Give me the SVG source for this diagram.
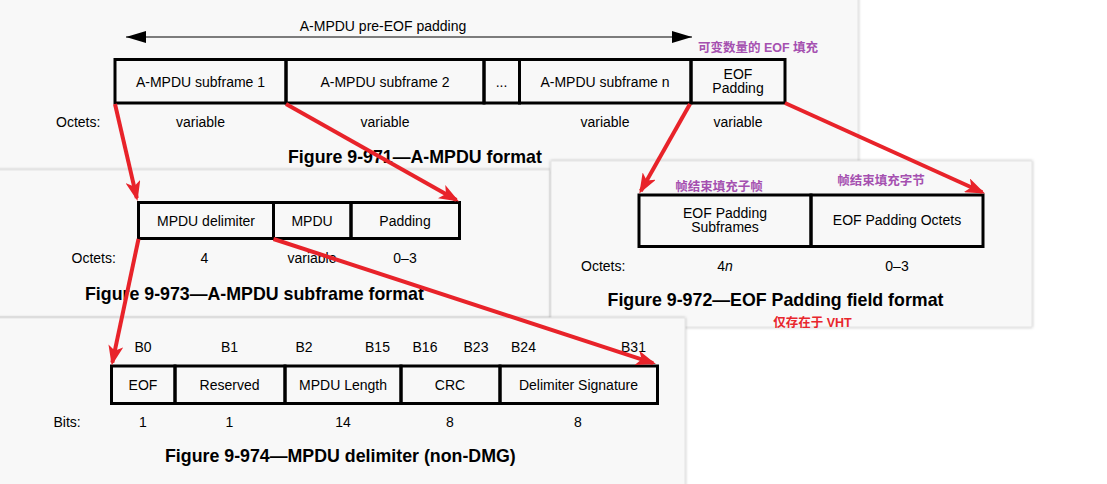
<svg xmlns="http://www.w3.org/2000/svg" width="1107" height="484" viewBox="0 0 1107 484">
<defs>
<style>
.panel{fill:#f8f8f8;stroke:#e4e4e4;stroke-width:1;filter:url(#sh)}
.cell{fill:none;stroke:#000;stroke-width:3}
.t{font-family:"Liberation Sans",Arial,sans-serif;font-size:14px;fill:#000;text-anchor:middle}
.l{text-anchor:start}
.cap{font-weight:bold;font-size:17.8px}
.cn{font-family:"Liberation Sans","Noto Sans CJK SC",sans-serif;font-weight:bold;font-size:12.5px;fill:#a550b0;text-anchor:middle}
.cr{fill:#e8262c}
.red{stroke:#e8232a;stroke-width:4;fill:none;marker-end:url(#rh)}
.blk{stroke:#000;stroke-width:1.2;fill:none;marker-start:url(#bh);marker-end:url(#bh)}
</style>
<filter id="sh" x="-5%" y="-5%" width="110%" height="110%">
<feDropShadow dx="0" dy="0" stdDeviation="1.5" flood-color="#000" flood-opacity="0.28"/>
</filter>
<marker id="rh" markerUnits="userSpaceOnUse" markerWidth="20" markerHeight="15" refX="17" refY="7.5" orient="auto">
<path d="M0,0 L20,7.5 L0,15 L5,7.5 Z" fill="#e8232a"/>
</marker>
<marker id="bh" markerUnits="userSpaceOnUse" markerWidth="20" markerHeight="12" refX="20" refY="6" orient="auto-start-reverse">
<path d="M0,0 L20,6 L0,12 Z" fill="#000"/>
</marker>
</defs>
<rect x="0" y="0" width="1107" height="484" fill="#fff"/>

<!-- panels -->
<g id="panels">
<rect class="panel" x="-10" y="-10" width="868" height="182"/>
<rect class="panel" x="-10" y="170" width="560" height="147"/>
<rect class="panel" x="551" y="161" width="481" height="166"/>
<rect class="panel" x="-10" y="318" width="695" height="176"/>
</g>

<!-- Figure 9-971 -->
<g id="fig971">
<line class="blk" x1="126" y1="37" x2="692" y2="37"/>
<text class="t" x="383" y="31">A-MPDU pre-EOF padding</text>
<text class="cn" x="758" y="52">可变数量的 EOF 填充</text>
<g id="sf1"><rect class="cell" x="115" y="59.5" width="171" height="43.5"/><text class="t" x="200.5" y="86.5">A-MPDU subframe 1</text></g>
<g id="sf2"><rect class="cell" x="286" y="59.5" width="198" height="43.5"/><text class="t" x="385" y="86.5">A-MPDU subframe 2</text></g>
<g id="sfdots"><rect class="cell" x="484" y="59.5" width="35.5" height="43.5"/><text class="t" x="501.5" y="86.5">...</text></g>
<g id="sfn"><rect class="cell" x="519.5" y="59.5" width="171.5" height="43.5"/><text class="t" x="605" y="86.5">A-MPDU subframe n</text></g>
<g id="eofpad"><rect class="cell" x="691" y="59.5" width="94" height="43.5"/><text class="t" x="738" y="79">EOF</text><text class="t" x="738" y="93">Padding</text></g>
<text class="t l" x="56" y="127">Octets:</text>
<text class="t" x="200.5" y="127">variable</text>
<text class="t" x="385" y="127">variable</text>
<text class="t" x="605" y="127">variable</text>
<text class="t" x="738" y="127">variable</text>
<text class="t l cap" x="288" y="163">Figure 9-971—A-MPDU format</text>
</g>

<!-- Figure 9-973 -->
<g id="fig973">
<g id="delim"><rect class="cell" x="138.5" y="202.5" width="135" height="36"/><text class="t" x="206" y="226">MPDU delimiter</text></g>
<g id="mpdu"><rect class="cell" x="273.5" y="202.5" width="77.5" height="36"/><text class="t" x="312" y="226">MPDU</text></g>
<g id="pad"><rect class="cell" x="351" y="202.5" width="108.5" height="36"/><text class="t" x="405" y="226">Padding</text></g>
<text class="t l" x="71.5" y="263">Octets:</text>
<text class="t" x="204.5" y="263">4</text>
<text class="t" x="312" y="263">variable</text>
<text class="t" x="405" y="263">0–3</text>
<text class="t l cap" x="85" y="299.5">Figure 9-973—A-MPDU subframe format</text>
</g>

<!-- Figure 9-972 -->
<g id="fig972">
<text class="cn" x="719" y="191">帧结束填充子帧</text>
<text class="cn" x="881" y="185">帧结束填充字节</text>
<g id="eofsub"><rect class="cell" x="639" y="195" width="172" height="51.5"/><text class="t" x="725" y="218">EOF Padding</text><text class="t" x="725" y="232">Subframes</text></g>
<g id="eofoct"><rect class="cell" x="811" y="195" width="172" height="51.5"/><text class="t" x="897" y="225">EOF Padding Octets</text></g>
<text class="t l" x="581" y="270.5">Octets:</text>
<text class="t" x="725" y="270.5">4<tspan font-style="italic">n</tspan></text>
<text class="t" x="897" y="270.5">0–3</text>
<text class="t cap" x="775.5" y="305.5">Figure 9-972—EOF Padding field format</text>
<text class="cn cr" x="812.5" y="327">仅存在于 VHT</text>
</g>

<!-- Figure 9-974 -->
<g id="fig974">
<text class="t" x="143" y="352">B0</text>
<text class="t" x="229.5" y="352">B1</text>
<text class="t" x="304" y="352">B2</text>
<text class="t" x="377.5" y="352">B15</text>
<text class="t" x="425" y="352">B16</text>
<text class="t" x="476" y="352">B23</text>
<text class="t" x="523.5" y="352">B24</text>
<text class="t" x="633.5" y="352">B31</text>
<g id="feof"><rect class="cell" x="111.5" y="366" width="63.5" height="37.5"/><text class="t" x="143" y="390">EOF</text></g>
<g id="fres"><rect class="cell" x="175" y="366" width="110" height="37.5"/><text class="t" x="229.5" y="390">Reserved</text></g>
<g id="flen"><rect class="cell" x="285" y="366" width="116" height="37.5"/><text class="t" x="343" y="390">MPDU Length</text></g>
<g id="fcrc"><rect class="cell" x="401" y="366" width="99" height="37.5"/><text class="t" x="450" y="390">CRC</text></g>
<g id="fsig"><rect class="cell" x="500" y="366" width="157.5" height="37.5"/><text class="t" x="578.5" y="390">Delimiter Signature</text></g>
<text class="t l" x="53.5" y="427">Bits:</text>
<text class="t" x="143" y="427">1</text>
<text class="t" x="229.5" y="427">1</text>
<text class="t" x="343" y="427">14</text>
<text class="t" x="450" y="427">8</text>
<text class="t" x="578" y="427">8</text>
<text class="t l cap" x="165" y="462">Figure 9-974—MPDU delimiter (non-DMG)</text>
</g>

<!-- connectors -->
<g id="connectors">
<line class="red" x1="115" y1="104" x2="136.8" y2="198.1"/>
<line class="red" x1="286" y1="104" x2="456.4" y2="200"/>
<line class="red" x1="690" y1="104" x2="640.8" y2="190.9"/>
<line class="red" x1="785" y1="103" x2="982.3" y2="192.3"/>
<line class="red" x1="138.5" y1="239" x2="112.3" y2="362.6"/>
<line class="red" x1="273.5" y1="239" x2="653.1" y2="363.1"/>
</g>
</svg>
